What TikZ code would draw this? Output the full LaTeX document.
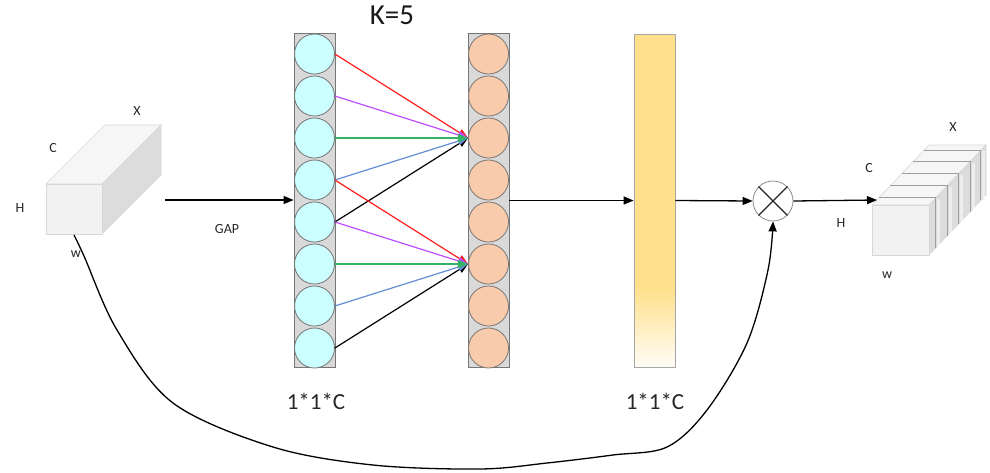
\documentclass[tikz,border=0pt]{standalone}
\usepackage{fontspec}
\setmainfont{Carlito}
\usetikzlibrary{arrows.meta}
\definecolor{cyanfill}{RGB}{204,255,255}
\definecolor{orangefill}{RGB}{248,203,173}
\definecolor{colgray}{RGB}{217,217,217}
\definecolor{edgegray}{RGB}{118,118,118}
\definecolor{barfill}{RGB}{255,224,140}
\definecolor{barlight}{RGB}{255,253,246}
\definecolor{cfront}{RGB}{242,242,242}
\definecolor{ctop}{RGB}{246,246,246}
\definecolor{cside}{RGB}{220,220,220}
\definecolor{cedge}{RGB}{215,215,215}
\definecolor{ared}{RGB}{255,30,30}
\definecolor{apurple}{RGB}{191,76,255}
\definecolor{agreen}{RGB}{50,180,100}
\definecolor{ablue}{RGB}{100,140,215}
\begin{document}
\begin{tikzpicture}[x=1pt,y=-1pt,
  arr/.style={line width=1.3pt,-{Triangle[length=10pt,width=8pt]}},
  carr/.style={line width=1.2pt,-{Triangle[length=10pt,width=8pt]}},
  colbox/.style={rectangle,draw=edgegray,fill=colgray,line width=0.8pt,minimum width=41pt,minimum height=334pt,inner sep=0pt},
  cball/.style={circle,draw=edgegray,fill=cyanfill,line width=0.8pt,minimum size=40pt,inner sep=0pt},
  oball/.style={circle,draw=edgegray!90!brown,fill=orangefill,line width=0.8pt,minimum size=40pt,inner sep=0pt},
  lbl/.style={font=\fontsize{14}{14}\selectfont,text=black!85,inner sep=0pt},
  biglbl/.style={font=\fontsize{23}{23}\selectfont,text=black!85,inner sep=0pt},
  klbl/.style={font=\fontsize{29}{29}\selectfont,text=black!90,inner sep=0pt},
  cubeface/.style={draw=cedge,line width=0.6pt},
  divider/.style={draw=black!38,line width=1.1pt}
]
\useasboundingbox (0,0) rectangle (990,472);

% ---------- left cube ----------
\fill[ctop,cubeface] (46,184) -- (102,184) -- (161,125) -- (105,125) -- cycle;
\fill[cside,cubeface] (102,184) -- (161,125) -- (161,175) -- (102,234) -- cycle;
\fill[cfront,cubeface] (46,184) rectangle (102,234);
\coordinate (lw) at (74,235);
\coordinate (gapstart) at (165,200);

\node[lbl] (lX) at (137,111) {X};
\node[lbl] (lC) at (53,148) {C};
\node[lbl] (lH) at (20,208) {H};
\node[lbl] (lw2) at (76,254) {w};
\node[lbl] (gap) at (227,229) {GAP};

% ---------- columns ----------
\node[colbox] (colL) at (314.5,200) {};
\node[colbox] (colR) at (488.5,200) {};
\foreach \i [evaluate=\i as \yy using 12+42*\i] in {1,...,8} {
  \node[cball] (a\i) at (314.5,\yy) {};
  \node[oball] (b\i) at (488.5,\yy) {};
}

% ---------- K=5 connections ----------
\draw[carr,ared]    (a1.east) -- (b3.west);
\draw[carr,apurple] (a2.east) -- (b3.west);
\draw[carr,black]   (a5.east) -- (b3.west);
\draw[carr,ablue]   (a4.east) -- (b3.west);
\draw[carr,agreen]  (a3.east) -- (b3.west);

\draw[carr,ared]    (a4.east) -- (b6.west);
\draw[carr,apurple] (a5.east) -- (b6.west);
\draw[carr,black]   (a8.east) -- (b6.west);
\draw[carr,ablue]   (a7.east) -- (b6.west);
\draw[carr,agreen]  (a6.east) -- (b6.west);

\node[klbl] (k5) at (392,15) {K=5};
\node[biglbl] (l111a) at (316,401) {1*1*C};
\node[biglbl] (l111b) at (655,401) {1*1*C};

% ---------- yellow bar ----------
\fill[barfill] (634,34) rectangle (675,290);
\shade[top color=barfill,bottom color=barlight] (634,289.5) rectangle (675,367);
\node[rectangle,draw=black!35,line width=0.8pt,minimum width=41pt,minimum height=333pt,inner sep=0pt] (bar) at (654.5,200.5) {};

% ---------- multiply ----------
\node[circle,draw=black!45,fill=white,line width=0.8pt,minimum size=40pt,inner sep=0pt] (mul) at (773,201) {};
\draw[black!85,line width=1.1pt] (mul.45) -- (mul.225);
\draw[black!85,line width=1.1pt] (mul.135) -- (mul.315);

% ---------- right cube ----------
\fill[ctop,cubeface] (872,205) -- (929,205) -- (986,145) -- (929,145) -- cycle;
\fill[cside,cubeface] (929,205) -- (986,145) -- (986,195) -- (929,255) -- cycle;
\foreach \t in {0.12,0.32,0.52,0.72,0.91} {
  \draw[divider] ({872+57*\t},{205-60*\t}) -- ++(57,0) -- ++(0,50);
  \fill[white,opacity=0.5] ({930.5+57*\t},{206-60*\t}) rectangle ++(3,47);
}
\fill[cfront,cubeface] (872,205) rectangle (929,255);
\coordinate (rin) at (877,200);

\node[lbl] (rX) at (953,127) {X};
\node[lbl] (rC) at (869,168) {C};
\node[lbl] (rH) at (841,223) {H};
\node[lbl] (rw) at (887,275) {w};

% ---------- connectors ----------
\draw[arr] (gapstart) -- (colL.west |- gapstart);
\draw[arr] (colR.east |- bar.west) -- (bar.west);
\draw[arr] (bar.east) -- (mul.west);
\draw[arr] (mul.east) -- (rin);
\draw[arr] plot[smooth,tension=0.55] coordinates {(lw) (84,256) (117,330) (173,403) (273,447) (373,465) (480,469) (547,463) (613,455) (667,447) (707,410) (747,343) (768,270) (mul.south)};
\end{tikzpicture}
\end{document}
